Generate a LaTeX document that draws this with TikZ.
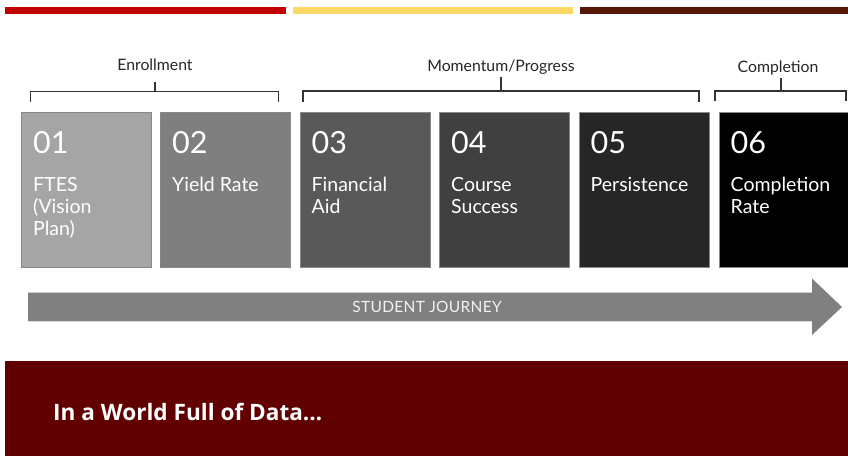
\documentclass[tikz,border=0pt]{standalone}
\usepackage{fontspec}
\setmainfont{Lato}
\newfontfamily\bannerfont{Open Sans}
\usetikzlibrary{calc}
\definecolor{barred}{HTML}{C00000}
\definecolor{baryellow}{HTML}{FCD966}
\definecolor{barbrown}{HTML}{571707}
\definecolor{banner}{HTML}{600000}
\definecolor{arrowgray}{HTML}{808080}
\definecolor{boxedge}{HTML}{888888}
\definecolor{cA}{HTML}{A5A5A5}
\definecolor{cB}{HTML}{7F7F7F}
\definecolor{cC}{HTML}{595959}
\definecolor{cD}{HTML}{404040}
\definecolor{cE}{HTML}{262626}
\definecolor{cF}{HTML}{000000}
\tikzset{
  stepbox/.style={draw=boxedge, line width=1.4pt, minimum width=130pt, minimum height=155pt, anchor=north west, inner sep=0pt},
  numtxt/.style={text=white, font=\fontsize{30.5}{32}\selectfont, anchor=base west, inner sep=0pt},
  lbltxt/.style={text=white, font=\fontsize{19.5}{21.7}\selectfont, align=left, anchor=base west, inner sep=0pt},
  grptxt/.style={text=black!85, font=\fontsize{15.8}{18}\selectfont, inner sep=0pt},
  brk/.style={draw=black!80, line width=1.1pt},
}
\begin{document}
\begin{tikzpicture}[x=1pt,y=-1pt]
\useasboundingbox (0,0) rectangle (848,455);
% top bars
\fill[barred] (5,7) rectangle (286,14);
\fill[baryellow] (293,7) rectangle (573,14);
\fill[barbrown] (580,7) rectangle (849,14);
% group labels
\node[grptxt] (genr) at (155,65) {Enrollment};
\node[grptxt] (gmom) at (501,67) {Momentum/Progress};
\node[grptxt] (gcom) at (778,68) {Completion};
% brackets
\coordinate (e1) at (30.5,102); \coordinate (e2) at (278.5,102); \coordinate (et) at (155,81.5);
\coordinate (m1) at (303,102); \coordinate (m2) at (699,102); \coordinate (mt) at (501,77);
\coordinate (c1) at (715,101); \coordinate (c2) at (846,101); \coordinate (ct) at (781,78);
\draw[brk] (e1) |- (e2 |- 0,91.5) -- (e2);
\draw[brk] (et) -- (et |- 0,91.5);
\draw[brk] (m1) |- (m2 |- 0,91) -- (m2);
\draw[brk] (mt) -- (mt |- 0,91);
\draw[brk] (c1) |- (c2 |- 0,91) -- (c2);
\draw[brk] (ct) -- (ct |- 0,91);
% boxes
\node[stepbox, fill=cA] (b1) at (21,112) {};
\node[stepbox, fill=cB] (b2) at (160,112) {};
\node[stepbox, fill=cC] (b3) at (299.5,112) {};
\node[stepbox, fill=cD] (b4) at (439,112) {};
\node[stepbox, fill=cE] (b5) at (578.5,112) {};
\node[stepbox, fill=cF, minimum width=132pt] (b6) at (718.5,112) {};
% box texts
\foreach \i/\n in {1/01,2/02,3/03,4/04,5/05,6/06}{
  \node[numtxt] (n\i) at ($(b\i.north west)+(12,41.5)$) {\n};
}
% base anchor = last line's baseline; first baseline at +79.7, line step 21.7
\node[lbltxt] (l1) at ($(b1.north west)+(12,123.1)$) {FTES\\(Vision\\Plan)};
\node[lbltxt] (l2) at ($(b2.north west)+(12,79.7)$) {Yield Rate};
\node[lbltxt] (l3) at ($(b3.north west)+(12,101.4)$) {Financial\\Aid};
\node[lbltxt] (l4) at ($(b4.north west)+(12,101.4)$) {Course\\Success};
\node[lbltxt] (l5) at ($(b5.north west)+(12,79.7)$) {Persistence};
\node[lbltxt] (l6) at ($(b6.north west)+(12,101.4)$) {Completion\\Rate};
% student journey arrow
\fill[arrowgray] (28,292.5) -- (812,292.5) -- (812,278.5) -- (842,307) -- (812,335) -- (812,321) -- (28,321) -- cycle;
\draw[black!20, line width=0.6pt] (28,292.5) -- (812,292.5);
\draw[black!15, line width=0.6pt] (28,321) -- (812,321);
\node[text=white!95!black, font=\fontsize{15.5}{17}\selectfont\addfontfeature{LetterSpace=2}, inner sep=0pt] (journey) at (427,307) {STUDENT JOURNEY};
% banner
\fill[banner] (5,361) rectangle (849,456);
\node[text=white, font=\bannerfont\bfseries\fontsize{22.6}{26}\selectfont, anchor=base west, inner sep=0pt] (world) at (53,420) {In a World Full of Data…};
\end{tikzpicture}
\end{document}
